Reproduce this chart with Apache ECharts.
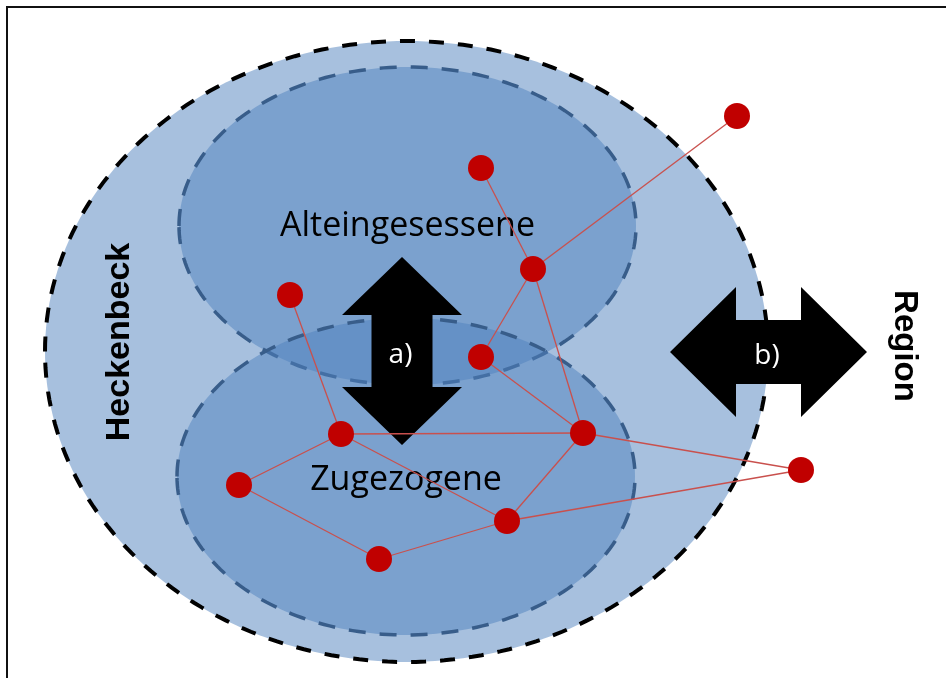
<!DOCTYPE html>
<html><head><meta charset="utf-8">
<script src="https://cdn.jsdelivr.net/npm/echarts@6/dist/echarts.min.js"></script>
<style>html,body{margin:0;padding:0;background:#fff}#c{width:946px;height:678px}</style>
</head><body><div id="c"></div>
<script>
// ---- Diagram data (diagram units) ----
const regionNames   = ['Heckenbeck', 'Alteingesessene', 'Zugezogene'];
const regionCenterX = [406.5, 407.5, 406];
const regionCenterY = [351.5, 226, 476.5];
const regionRadiusX = [361.5, 228.5, 229];
const regionRadiusY = [310.5, 159, 158.5];

const nodeX = [737, 481, 533, 290, 481, 341, 583, 239, 801, 507, 379];
const nodeY = [116, 168, 269, 295, 357, 434, 433, 485, 470, 521, 559];
const linkSource = [1, 2, 2, 2, 4, 3, 5, 5, 5, 6, 6, 8, 7, 10];
const linkTarget = [2, 0, 4, 6, 6, 5, 6, 7, 9, 9, 8, 9, 10, 9];

const arrowLabels         = ['a)', 'b)'];
const arrowCenterX        = [402, 768.5];
const arrowCenterY        = [351, 352];
const arrowHalfLength     = [94, 98.5];
const arrowHeadHalfWidth  = [60, 65];
const arrowShaftHalfWidth = [30.5, 32];
const arrowHeadLength     = [58, 66];
const arrowVertical       = [1, 0];
const outsideLabel = 'Region';

const chart = echarts.init(document.getElementById('c'), null, {renderer: 'canvas'});

function renderRegion(params, api) {
  const i = params.dataIndex;
  const cx = api.value(0), cy = api.value(1), rx = api.value(2), ry = api.value(3);
  const pts = [];
  const N = 240;
  for (let k = 0; k < N; k++) {
    const t = Math.PI + k / N * Math.PI * 2;
    pts.push(api.coord([cx + rx * Math.cos(t), cy + ry * Math.sin(t)]));
  }
  const outer = i === 0;
  const children = [{
    type: 'polygon',
    shape: {points: pts},
    style: {
      fill: 'rgba(79,129,189,0.5)',
      stroke: outer ? '#000000' : '#385d8a',
      lineWidth: outer ? 4 : 3.5,
      lineDash: outer ? [15, 14] : [17, 14]
    }
  }];
  let tp, rot = 0, font;
  if (outer) {
    tp = api.coord([cx - rx + 74.5, cy - 9.5]);
    rot = Math.PI / 2;
    font = 'bold 34px "Liberation Sans", Arial, sans-serif';
  } else {
    tp = api.coord([cx, cy + (i === 2 ? 4 : 0)]);
    font = '34px "Open Sans", Lato, sans-serif';
  }
  children.push({
    type: 'text', x: tp[0], y: tp[1], rotation: rot,
    style: {text: regionNames[i], font: font, fill: '#000', align: 'center', verticalAlign: 'middle',
            textAlign: 'center', textVerticalAlign: 'middle'}
  });
  return {type: 'group', children: children};
}

function renderArrow(params, api) {
  const i = params.dataIndex;
  const cx = api.value(0), cy = api.value(1), L = api.value(2), H = api.value(3), S = api.value(4), h = api.value(5);
  const vert = api.value(6) === 1;
  const local = [[-L, 0], [-L + h, H], [-L + h, S], [L - h, S], [L - h, H], [L, 0], [L - h, -H], [L - h, -S], [-L + h, -S], [-L + h, -H]];
  const pts = local.map(p => api.coord(vert ? [cx + p[1], cy + p[0]] : [cx + p[0], cy + p[1]]));
  const c = api.coord([cx - 1.5, cy + 4]);
  const children = [
    {type: 'polygon', shape: {points: pts}, style: {fill: '#000000', stroke: 'none'}},
    {type: 'text', x: c[0], y: c[1],
     style: {text: arrowLabels[i], font: '28px "Open Sans", Lato, sans-serif', fill: '#ffffff',
             align: 'center', verticalAlign: 'middle', textAlign: 'center', textVerticalAlign: 'middle'}}
  ];
  if (!vert) {
    const r = api.coord([cx + L + 37.5, cy - 6]);
    children.push({type: 'text', x: r[0], y: r[1], rotation: -Math.PI / 2,
      style: {text: outsideLabel, font: 'bold 33px "Liberation Sans", Arial, sans-serif', fill: '#000',
              align: 'center', verticalAlign: 'middle', textAlign: 'center', textVerticalAlign: 'middle'}});
  }
  return {type: 'group', children: children};
}

const option = {
  animation: false,
  backgroundColor: '#ffffff',
  grid: {left: 0, right: 0, top: 0, bottom: 0},
  xAxis: {type: 'value', min: 0, max: 946, show: false},
  yAxis: {type: 'value', min: 0, max: 678, inverse: true, show: false},
  graphic: [{
    type: 'rect', z: 100, silent: true,
    shape: {x: 7, y: 7, width: 1200, height: 1200},
    style: {fill: 'none', stroke: '#111111', lineWidth: 2}
  }],
  series: [
    {
      type: 'custom', z: 1, silent: true,
      renderItem: renderRegion,
      data: regionNames.map((n, i) => [regionCenterX[i], regionCenterY[i], regionRadiusX[i], regionRadiusY[i]])
    },
    {
      type: 'custom', z: 2, silent: true,
      renderItem: renderArrow,
      data: arrowLabels.map((n, i) => [arrowCenterX[i], arrowCenterY[i], arrowHalfLength[i],
        arrowHeadHalfWidth[i], arrowShaftHalfWidth[i], arrowHeadLength[i], arrowVertical[i]])
    },
    {
      type: 'graph', z: 3, coordinateSystem: 'cartesian2d', layout: 'none', silent: true,
      symbol: 'circle', symbolSize: 26,
      itemStyle: {color: '#c00000'},
      lineStyle: {color: '#c9504d', width: 1.3, opacity: 1, curveness: 0},
      label: {show: false},
      emphasis: {disabled: true},
      data: nodeX.map((x, i) => [x, nodeY[i]]),
      links: linkSource.map((s, i) => ({source: s, target: linkTarget[i]}))
    }
  ]
};
chart.setOption(option);
</script>
</body></html>
